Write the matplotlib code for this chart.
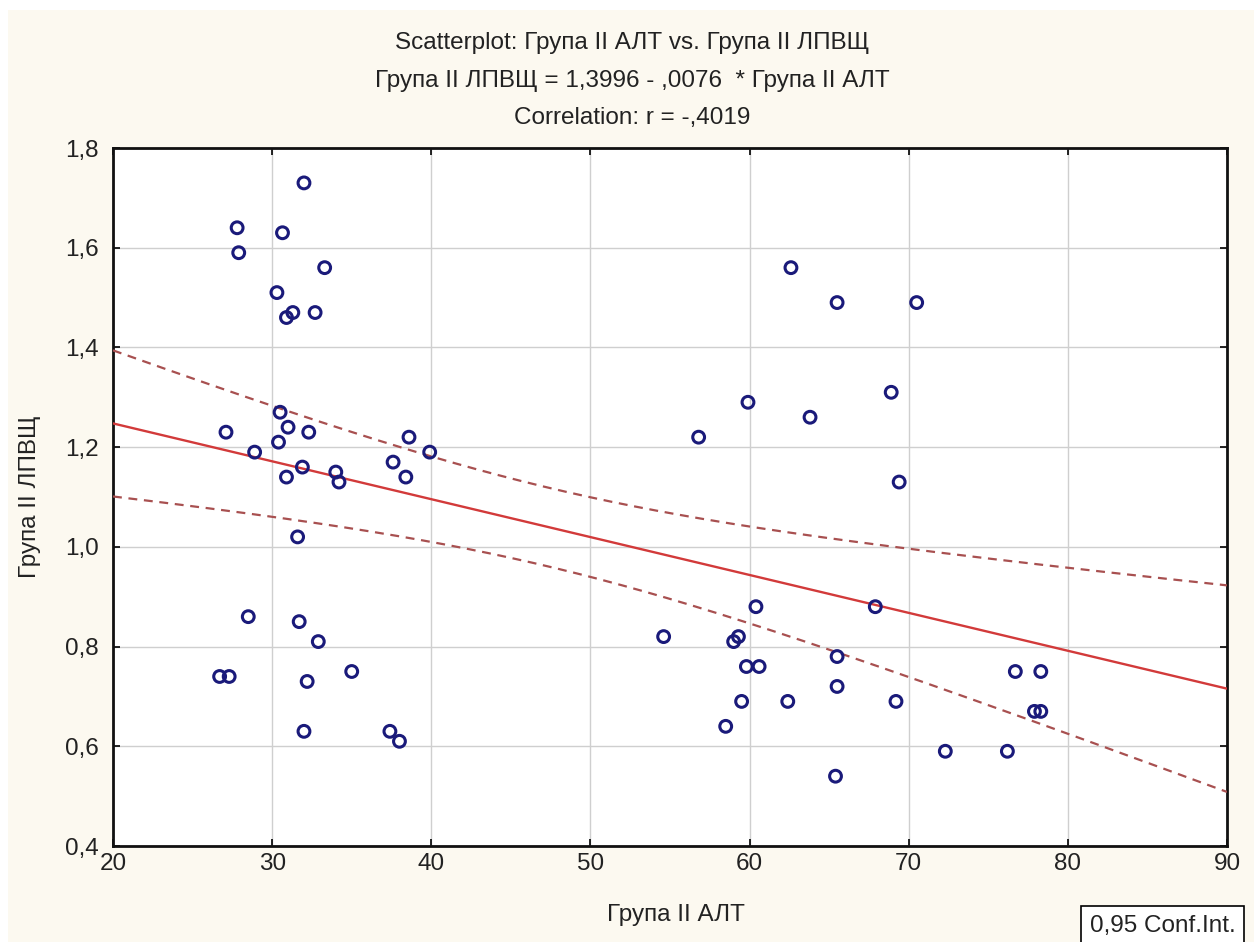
import numpy as np
import matplotlib
matplotlib.use("Agg")
import matplotlib.pyplot as plt
from matplotlib.patches import Rectangle
from matplotlib.ticker import FuncFormatter

plt.rcParams['font.family'] = ['Liberation Sans', 'DejaVu Sans']

# ---- data ----
alt = [32.0, 27.8, 30.65, 27.9, 33.3, 30.3, 31.3, 30.9, 32.7, 30.5, 27.1, 31.0,
       32.3, 30.4, 28.9, 31.9, 30.9, 34.0, 34.2, 38.6, 39.9, 37.6, 38.4,
       31.6, 28.5, 31.7, 32.9, 26.7, 27.3, 35.0, 32.2, 32.0, 37.4, 38.0,
       65.5, 70.5, 59.9, 68.9, 63.8, 56.8, 69.4, 62.6,
       60.4, 67.9, 54.6, 59.3, 59.0, 65.5, 59.8, 60.6, 65.5, 59.5, 62.4, 69.2,
       58.5, 65.4, 72.3, 76.2, 76.7, 78.3, 77.9, 78.3]
lpvsch = [1.73, 1.64, 1.63, 1.59, 1.56, 1.51, 1.47, 1.46, 1.47, 1.27, 1.23, 1.24,
          1.23, 1.21, 1.19, 1.16, 1.14, 1.15, 1.13, 1.22, 1.19, 1.17, 1.14,
          1.02, 0.86, 0.85, 0.81, 0.74, 0.74, 0.75, 0.73, 0.63, 0.63, 0.61,
          1.49, 1.49, 1.29, 1.31, 1.26, 1.22, 1.13, 1.56,
          0.88, 0.88, 0.82, 0.82, 0.81, 0.78, 0.76, 0.76, 0.72, 0.69, 0.69, 0.69,
          0.64, 0.54, 0.59, 0.59, 0.75, 0.75, 0.67, 0.67]
intercept = 1.3996
slope = -0.0076
x_ticks = [20, 30, 40, 50, 60, 70, 80, 90]
y_ticks = [0.4, 0.6, 0.8, 1.0, 1.2, 1.4, 1.6, 1.8]
title_lines = ["Scatterplot: Група II АЛТ vs. Група II ЛПВЩ",
               "Група II ЛПВЩ = 1,3996 - ,0076  * Група II АЛТ",
               "Correlation: r = -,4019"]
x_label = "Група II АЛТ"
y_label = "Група II ЛПВЩ"
legend_text = "0,95 Conf.Int."

x = np.array(alt)
y = np.array(lpvsch)
n = len(x)

W, H = 1254, 942
FS = 17.5
fig = plt.figure(figsize=(W / 100, H / 100), dpi=100, facecolor='white')
fig.patches.append(Rectangle((8 / W, 0), 1, 1 - 10 / H, transform=fig.transFigure,
                             facecolor='#FCF9F0', edgecolor='none', zorder=-10))

ax = fig.add_axes([113 / W, 1 - 846 / H, (1227 - 113) / W, (846 - 148) / H])
ax.set_facecolor('white')
ax.set_xlim(x_ticks[0], x_ticks[-1])
ax.set_ylim(y_ticks[0], y_ticks[-1])
ax.set_xticks(x_ticks)
ax.set_yticks(y_ticks)

ax.xaxis.set_major_formatter(FuncFormatter(lambda v, p: f"{v:.0f}"))
ax.yaxis.set_major_formatter(FuncFormatter(lambda v, p: f"{v:.1f}".replace('.', ',')))
ax.tick_params(direction='in', length=5, width=1.2, top=True, right=True,
               labelsize=FS, colors='black', labelcolor='#222222')
ax.tick_params(axis='y', pad=10)
ax.tick_params(axis='x', pad=5)
ax.grid(True, color='#CFCFCF', linewidth=1.0)
ax.set_axisbelow(True)
for s in ax.spines.values():
    s.set_linewidth(2.0)
    s.set_color('#111111')

# regression line and confidence band
xs = np.linspace(x_ticks[0], x_ticks[-1], 200)
yhat = intercept + slope * xs
resid = y - (intercept + slope * x)
s_err = np.sqrt(np.sum(resid ** 2) / (n - 2))
t_val = 2.0003  # t(0.975, df=60)
sxx = np.sum((x - x.mean()) ** 2)
half = t_val * s_err * np.sqrt(1 / n + (xs - x.mean()) ** 2 / sxx)

ax.plot(xs, yhat, color='#D23A3A', lw=1.7, zorder=3)
ax.plot(xs, yhat + half, color='#A85050', lw=1.6, ls=(0, (4, 3)), zorder=3)
ax.plot(xs, yhat - half, color='#A85050', lw=1.6, ls=(0, (4, 3)), zorder=3)

ax.scatter(x, y, s=72, facecolors='none', edgecolors='#1A1A7A', linewidths=2.2, zorder=4)

fig.text(632 / W, 1 - 43 / H, title_lines[0], ha='center', va='center', fontsize=FS, color='#222222')
fig.text(632 / W, 1 - 81 / H, title_lines[1], ha='center', va='center', fontsize=FS, color='#222222')
fig.text(632 / W, 1 - 118 / H, title_lines[2], ha='center', va='center', fontsize=FS, color='#222222')

fig.text(676 / W, 1 - 915 / H, x_label, ha='center', va='center', fontsize=FS, color='#222222')
fig.text(30 / W, 1 - 497 / H, y_label, ha='center', va='center', fontsize=FS, rotation=90,
         color='#222222')

fig.text(1090 / W, 1 - 926 / H, legend_text, ha='left', va='center', fontsize=FS, color='#222222',
         bbox=dict(boxstyle='square,pad=0.35', facecolor='white', edgecolor='black', lw=1.2))

fig.savefig('out.png', dpi=100, facecolor=fig.get_facecolor())
